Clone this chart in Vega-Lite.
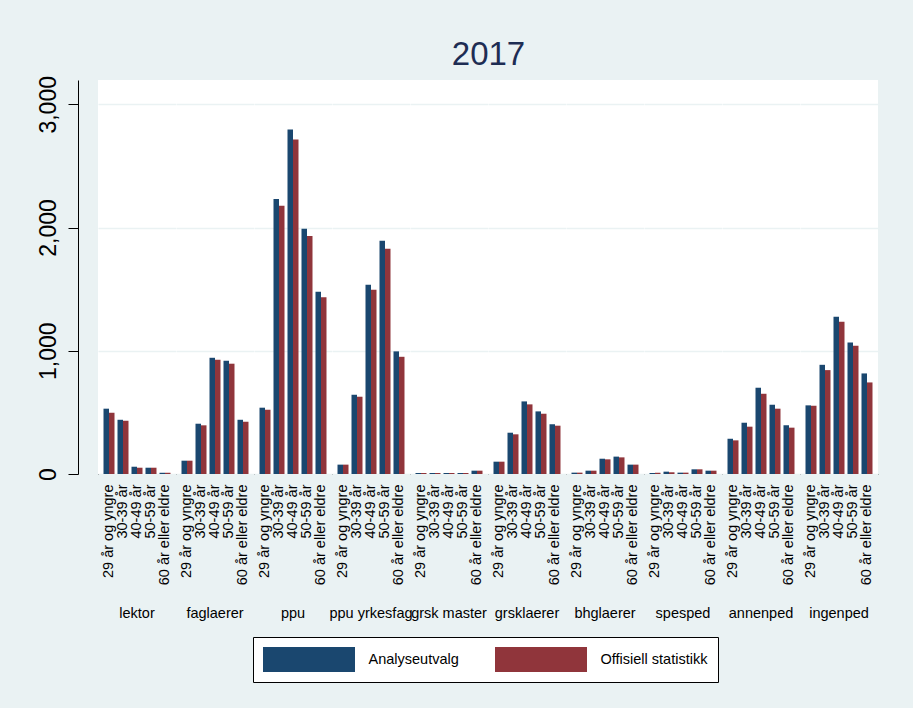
{
  "$schema": "https://vega.github.io/schema/vega-lite/v6.json",
  "background": "#EAF2F3",
  "padding": {"left": 36, "right": 35, "top": 38, "bottom": 31},
  "title": {
    "text": "2017",
    "anchor": "middle",
    "fontSize": 33,
    "fontWeight": "normal",
    "font": "Liberation Sans",
    "color": "#1E2D53",
    "offset": 4,
    "dx": 31
  },
  "data": {
    "values": [
      {"gruppe": "lektor", "alder": "29 år og yngre", "serie": "Analyseutvalg", "antall": 530},
      {"gruppe": "lektor", "alder": "29 år og yngre", "serie": "Offisiell statistikk", "antall": 497},
      {"gruppe": "lektor", "alder": "30-39 år", "serie": "Analyseutvalg", "antall": 440},
      {"gruppe": "lektor", "alder": "30-39 år", "serie": "Offisiell statistikk", "antall": 432},
      {"gruppe": "lektor", "alder": "40-49 år", "serie": "Analyseutvalg", "antall": 59},
      {"gruppe": "lektor", "alder": "40-49 år", "serie": "Offisiell statistikk", "antall": 51},
      {"gruppe": "lektor", "alder": "50-59 år", "serie": "Analyseutvalg", "antall": 51},
      {"gruppe": "lektor", "alder": "50-59 år", "serie": "Offisiell statistikk", "antall": 51},
      {"gruppe": "lektor", "alder": "60 år eller eldre", "serie": "Analyseutvalg", "antall": 10},
      {"gruppe": "lektor", "alder": "60 år eller eldre", "serie": "Offisiell statistikk", "antall": 10},
      {"gruppe": "faglaerer", "alder": "29 år og yngre", "serie": "Analyseutvalg", "antall": 108},
      {"gruppe": "faglaerer", "alder": "29 år og yngre", "serie": "Offisiell statistikk", "antall": 108},
      {"gruppe": "faglaerer", "alder": "30-39 år", "serie": "Analyseutvalg", "antall": 408},
      {"gruppe": "faglaerer", "alder": "30-39 år", "serie": "Offisiell statistikk", "antall": 395},
      {"gruppe": "faglaerer", "alder": "40-49 år", "serie": "Analyseutvalg", "antall": 943},
      {"gruppe": "faglaerer", "alder": "40-49 år", "serie": "Offisiell statistikk", "antall": 927},
      {"gruppe": "faglaerer", "alder": "50-59 år", "serie": "Analyseutvalg", "antall": 919},
      {"gruppe": "faglaerer", "alder": "50-59 år", "serie": "Offisiell statistikk", "antall": 895},
      {"gruppe": "faglaerer", "alder": "60 år eller eldre", "serie": "Analyseutvalg", "antall": 440},
      {"gruppe": "faglaerer", "alder": "60 år eller eldre", "serie": "Offisiell statistikk", "antall": 424},
      {"gruppe": "ppu", "alder": "29 år og yngre", "serie": "Analyseutvalg", "antall": 538},
      {"gruppe": "ppu", "alder": "29 år og yngre", "serie": "Offisiell statistikk", "antall": 522},
      {"gruppe": "ppu", "alder": "30-39 år", "serie": "Analyseutvalg", "antall": 2232},
      {"gruppe": "ppu", "alder": "30-39 år", "serie": "Offisiell statistikk", "antall": 2176},
      {"gruppe": "ppu", "alder": "40-49 år", "serie": "Analyseutvalg", "antall": 2795},
      {"gruppe": "ppu", "alder": "40-49 år", "serie": "Offisiell statistikk", "antall": 2714},
      {"gruppe": "ppu", "alder": "50-59 år", "serie": "Analyseutvalg", "antall": 1989},
      {"gruppe": "ppu", "alder": "50-59 år", "serie": "Offisiell statistikk", "antall": 1932},
      {"gruppe": "ppu", "alder": "60 år eller eldre", "serie": "Analyseutvalg", "antall": 1478},
      {"gruppe": "ppu", "alder": "60 år eller eldre", "serie": "Offisiell statistikk", "antall": 1435},
      {"gruppe": "ppu yrkesfag", "alder": "29 år og yngre", "serie": "Analyseutvalg", "antall": 76},
      {"gruppe": "ppu yrkesfag", "alder": "29 år og yngre", "serie": "Offisiell statistikk", "antall": 76},
      {"gruppe": "ppu yrkesfag", "alder": "30-39 år", "serie": "Analyseutvalg", "antall": 643},
      {"gruppe": "ppu yrkesfag", "alder": "30-39 år", "serie": "Offisiell statistikk", "antall": 627},
      {"gruppe": "ppu yrkesfag", "alder": "40-49 år", "serie": "Analyseutvalg", "antall": 1535},
      {"gruppe": "ppu yrkesfag", "alder": "40-49 år", "serie": "Offisiell statistikk", "antall": 1495},
      {"gruppe": "ppu yrkesfag", "alder": "50-59 år", "serie": "Analyseutvalg", "antall": 1892},
      {"gruppe": "ppu yrkesfag", "alder": "50-59 år", "serie": "Offisiell statistikk", "antall": 1827},
      {"gruppe": "ppu yrkesfag", "alder": "60 år eller eldre", "serie": "Analyseutvalg", "antall": 995},
      {"gruppe": "ppu yrkesfag", "alder": "60 år eller eldre", "serie": "Offisiell statistikk", "antall": 951},
      {"gruppe": "grsk master", "alder": "29 år og yngre", "serie": "Analyseutvalg", "antall": 8},
      {"gruppe": "grsk master", "alder": "29 år og yngre", "serie": "Offisiell statistikk", "antall": 8},
      {"gruppe": "grsk master", "alder": "30-39 år", "serie": "Analyseutvalg", "antall": 8},
      {"gruppe": "grsk master", "alder": "30-39 år", "serie": "Offisiell statistikk", "antall": 8},
      {"gruppe": "grsk master", "alder": "40-49 år", "serie": "Analyseutvalg", "antall": 8},
      {"gruppe": "grsk master", "alder": "40-49 år", "serie": "Offisiell statistikk", "antall": 8},
      {"gruppe": "grsk master", "alder": "50-59 år", "serie": "Analyseutvalg", "antall": 8},
      {"gruppe": "grsk master", "alder": "50-59 år", "serie": "Offisiell statistikk", "antall": 8},
      {"gruppe": "grsk master", "alder": "60 år eller eldre", "serie": "Analyseutvalg", "antall": 27},
      {"gruppe": "grsk master", "alder": "60 år eller eldre", "serie": "Offisiell statistikk", "antall": 27},
      {"gruppe": "grsklaerer", "alder": "29 år og yngre", "serie": "Analyseutvalg", "antall": 100},
      {"gruppe": "grsklaerer", "alder": "29 år og yngre", "serie": "Offisiell statistikk", "antall": 100},
      {"gruppe": "grsklaerer", "alder": "30-39 år", "serie": "Analyseutvalg", "antall": 335},
      {"gruppe": "grsklaerer", "alder": "30-39 år", "serie": "Offisiell statistikk", "antall": 322},
      {"gruppe": "grsklaerer", "alder": "40-49 år", "serie": "Analyseutvalg", "antall": 589},
      {"gruppe": "grsklaerer", "alder": "40-49 år", "serie": "Offisiell statistikk", "antall": 565},
      {"gruppe": "grsklaerer", "alder": "50-59 år", "serie": "Analyseutvalg", "antall": 508},
      {"gruppe": "grsklaerer", "alder": "50-59 år", "serie": "Offisiell statistikk", "antall": 489},
      {"gruppe": "grsklaerer", "alder": "60 år eller eldre", "serie": "Analyseutvalg", "antall": 403},
      {"gruppe": "grsklaerer", "alder": "60 år eller eldre", "serie": "Offisiell statistikk", "antall": 392},
      {"gruppe": "bhglaerer", "alder": "29 år og yngre", "serie": "Analyseutvalg", "antall": 11},
      {"gruppe": "bhglaerer", "alder": "29 år og yngre", "serie": "Offisiell statistikk", "antall": 11},
      {"gruppe": "bhglaerer", "alder": "30-39 år", "serie": "Analyseutvalg", "antall": 27},
      {"gruppe": "bhglaerer", "alder": "30-39 år", "serie": "Offisiell statistikk", "antall": 27},
      {"gruppe": "bhglaerer", "alder": "40-49 år", "serie": "Analyseutvalg", "antall": 124},
      {"gruppe": "bhglaerer", "alder": "40-49 år", "serie": "Offisiell statistikk", "antall": 119},
      {"gruppe": "bhglaerer", "alder": "50-59 år", "serie": "Analyseutvalg", "antall": 141},
      {"gruppe": "bhglaerer", "alder": "50-59 år", "serie": "Offisiell statistikk", "antall": 135},
      {"gruppe": "bhglaerer", "alder": "60 år eller eldre", "serie": "Analyseutvalg", "antall": 76},
      {"gruppe": "bhglaerer", "alder": "60 år eller eldre", "serie": "Offisiell statistikk", "antall": 76},
      {"gruppe": "spesped", "alder": "29 år og yngre", "serie": "Analyseutvalg", "antall": 8},
      {"gruppe": "spesped", "alder": "29 år og yngre", "serie": "Offisiell statistikk", "antall": 10},
      {"gruppe": "spesped", "alder": "30-39 år", "serie": "Analyseutvalg", "antall": 19},
      {"gruppe": "spesped", "alder": "30-39 år", "serie": "Offisiell statistikk", "antall": 14},
      {"gruppe": "spesped", "alder": "40-49 år", "serie": "Analyseutvalg", "antall": 11},
      {"gruppe": "spesped", "alder": "40-49 år", "serie": "Offisiell statistikk", "antall": 11},
      {"gruppe": "spesped", "alder": "50-59 år", "serie": "Analyseutvalg", "antall": 38},
      {"gruppe": "spesped", "alder": "50-59 år", "serie": "Offisiell statistikk", "antall": 38},
      {"gruppe": "spesped", "alder": "60 år eller eldre", "serie": "Analyseutvalg", "antall": 27},
      {"gruppe": "spesped", "alder": "60 år eller eldre", "serie": "Offisiell statistikk", "antall": 27},
      {"gruppe": "annenped", "alder": "29 år og yngre", "serie": "Analyseutvalg", "antall": 286},
      {"gruppe": "annenped", "alder": "29 år og yngre", "serie": "Offisiell statistikk", "antall": 273},
      {"gruppe": "annenped", "alder": "30-39 år", "serie": "Analyseutvalg", "antall": 416},
      {"gruppe": "annenped", "alder": "30-39 år", "serie": "Offisiell statistikk", "antall": 384},
      {"gruppe": "annenped", "alder": "40-49 år", "serie": "Analyseutvalg", "antall": 700},
      {"gruppe": "annenped", "alder": "40-49 år", "serie": "Offisiell statistikk", "antall": 651},
      {"gruppe": "annenped", "alder": "50-59 år", "serie": "Analyseutvalg", "antall": 562},
      {"gruppe": "annenped", "alder": "50-59 år", "serie": "Offisiell statistikk", "antall": 530},
      {"gruppe": "annenped", "alder": "60 år eller eldre", "serie": "Analyseutvalg", "antall": 395},
      {"gruppe": "annenped", "alder": "60 år eller eldre", "serie": "Offisiell statistikk", "antall": 376},
      {"gruppe": "ingenped", "alder": "29 år og yngre", "serie": "Analyseutvalg", "antall": 557},
      {"gruppe": "ingenped", "alder": "29 år og yngre", "serie": "Offisiell statistikk", "antall": 554},
      {"gruppe": "ingenped", "alder": "30-39 år", "serie": "Analyseutvalg", "antall": 886},
      {"gruppe": "ingenped", "alder": "30-39 år", "serie": "Offisiell statistikk", "antall": 843},
      {"gruppe": "ingenped", "alder": "40-49 år", "serie": "Analyseutvalg", "antall": 1276},
      {"gruppe": "ingenped", "alder": "40-49 år", "serie": "Offisiell statistikk", "antall": 1235},
      {"gruppe": "ingenped", "alder": "50-59 år", "serie": "Analyseutvalg", "antall": 1068},
      {"gruppe": "ingenped", "alder": "50-59 år", "serie": "Offisiell statistikk", "antall": 1041},
      {"gruppe": "ingenped", "alder": "60 år eller eldre", "serie": "Analyseutvalg", "antall": 816},
      {"gruppe": "ingenped", "alder": "60 år eller eldre", "serie": "Offisiell statistikk", "antall": 743}
    ]
  },
  "facet": {
    "column": {
      "field": "gruppe",
      "type": "nominal",
      "sort": ["lektor", "faglaerer", "ppu", "ppu yrkesfag", "grsk master", "grsklaerer", "bhglaerer", "spesped", "annenped", "ingenped"],
      "title": null,
      "header": {
        "labelOrient": "bottom",
        "labelFont": "Liberation Sans",
        "labelFontSize": 14.5,
        "labelColor": "#000000",
        "labelPadding": 22,
        "labelLimit": 0
      }
    }
  },
  "spacing": 0,
  "bounds": "flush",
  "spec": {
    "width": 78,
    "height": 394,
    "mark": {"type": "bar"},
    "encoding": {
      "x": {
        "field": "alder",
        "type": "nominal",
        "sort": ["29 år og yngre", "30-39 år", "40-49 år", "50-59 år", "60 år eller eldre"],
        "scale": {"paddingInner": 0.214, "paddingOuter": 0.393},
        "axis": {
          "title": null,
          "labelAngle": -90,
          "ticks": false,
          "labelPadding": 10,
          "labelFont": "Liberation Sans",
          "labelFontSize": 14.5,
          "labelColor": "#000000",
          "labelOverlap": false,
          "labelLimit": 0,
          "domainColor": "#000000",
          "domainWidth": 1.2
        }
      },
      "xOffset": {
        "field": "serie",
        "type": "nominal",
        "sort": ["Analyseutvalg", "Offisiell statistikk"],
        "scale": {"paddingInner": 0, "paddingOuter": 0}
      },
      "y": {
        "field": "antall",
        "type": "quantitative",
        "scale": {"domain": [0, 3197], "nice": false},
        "axis": {
          "title": null,
          "values": [0, 1000, 2000, 3000],
          "format": ",.0f",
          "labelAngle": -90,
          "labelFont": "Liberation Sans",
          "labelFontSize": 23,
          "labelColor": "#000000",
          "labelPadding": 8,
          "offset": 20,
          "tickSize": 10,
          "tickColor": "#000000",
          "domainColor": "#000000",
          "grid": true,
          "gridColor": "#EAF2F3",
          "gridWidth": 1.6
        }
      },
      "color": {
        "field": "serie",
        "type": "nominal",
        "scale": {
          "domain": ["Analyseutvalg", "Offisiell statistikk"],
          "range": ["#1A476F", "#90353B"]
        },
        "legend": {
          "title": null,
          "orient": "none",
          "legendX": 155,
          "legendY": 557,
          "direction": "horizontal",
          "symbolType": "M-3.68,-1H3.68V1H-3.68Z",
          "symbolSize": 625,
          "symbolStrokeWidth": 0,
          "symbolOffset": 33.5,
          "labelOffset": 47,
          "labelFont": "Liberation Sans",
          "labelFontSize": 14.5,
          "labelColor": "#000000",
          "columnPadding": 36,
          "padding": 10,
          "strokeColor": "#000000",
          "fillColor": "#FFFFFF"
        }
      }
    }
  },
  "config": {
    "view": {"stroke": null, "fill": "#FFFFFF"}
  }
}
